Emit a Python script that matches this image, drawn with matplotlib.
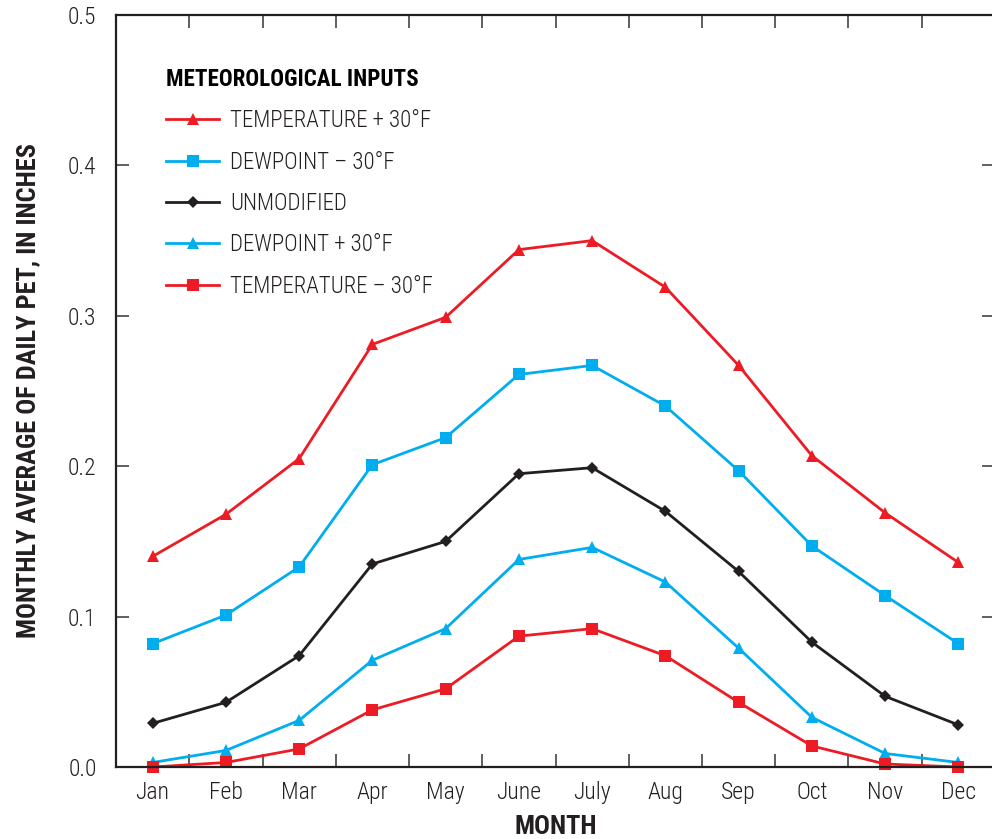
import matplotlib
matplotlib.use("Agg")
import matplotlib.pyplot as plt
from matplotlib.ticker import FixedLocator

plt.rcParams['font.family'] = ['Roboto Condensed', 'Liberation Sans Narrow', 'Roboto', 'DejaVu Sans']

months = ["Jan", "Feb", "Mar", "Apr", "May", "June", "July", "Aug", "Sep", "Oct", "Nov", "Dec"]
temp_plus30 = [0.140, 0.168, 0.205, 0.281, 0.299, 0.344, 0.350, 0.319, 0.267, 0.207, 0.169, 0.136]
dew_minus30 = [0.082, 0.101, 0.133, 0.201, 0.219, 0.261, 0.267, 0.240, 0.197, 0.147, 0.114, 0.082]
unmodified = [0.029, 0.043, 0.074, 0.135, 0.150, 0.195, 0.199, 0.170, 0.130, 0.083, 0.047, 0.028]
dew_plus30 = [0.003, 0.011, 0.031, 0.071, 0.092, 0.138, 0.146, 0.123, 0.079, 0.033, 0.009, 0.003]
temp_minus30 = [0.000, 0.003, 0.012, 0.038, 0.052, 0.087, 0.092, 0.074, 0.043, 0.014, 0.002, 0.000]
yticks = [0.0, 0.1, 0.2, 0.3, 0.4, 0.5]
ytick_labels = ["0.0", "0.1", "0.2", "0.3", "0.4", "0.5"]

RED = "#ED1C24"
BLUE = "#00AEEF"
BLACK = "#231F20"

fig = plt.figure(figsize=(9.92, 8.39), dpi=100)
ax = fig.add_axes([116/992, 72/839, (995-116)/992, (767-15)/839])

x = list(range(len(months)))
series = [
    (temp_plus30, RED, '^', 9, "TEMPERATURE + 30\u00b0F"),
    (dew_minus30, BLUE, 's', 8.5, "DEWPOINT \u2013 30\u00b0F"),
    (unmodified, BLACK, 'D', 6.5, "UNMODIFIED"),
    (dew_plus30, BLUE, '^', 9, "DEWPOINT + 30\u00b0F"),
    (temp_minus30, RED, 's', 8.5, "TEMPERATURE \u2013 30\u00b0F"),
]
for vals, c, m, ms, lab in series:
    ax.plot(x, vals, color=c, marker=m, markersize=ms, markeredgewidth=0,
            linewidth=2.0, label=lab, clip_on=False)

ax.set_xlim(-0.5, len(months) - 0.5)
ax.set_ylim(0, 0.5)

ax.xaxis.set_major_locator(FixedLocator([i + 0.5 for i in range(len(months) - 1)]))
ax.xaxis.set_minor_locator(FixedLocator(x))
ax.set_xticklabels([])
ax.set_xticklabels(months, minor=True, fontweight='light')
ax.tick_params(axis='x', which='major', direction='in', length=9.5, width=1.2, top=True, bottom=True, color="#444444")
ax.tick_params(axis='x', which='minor', length=0, pad=10, labelsize=17, labelcolor="#231F20")

ax.set_yticks(yticks)
ax.set_yticklabels(ytick_labels, fontweight='light')
ax.tick_params(axis='y', direction='in', length=9.5, width=1.2, left=True, right=True, pad=14, labelsize=17, labelcolor="#231F20", color="#444444")

for s in ax.spines.values():
    s.set_linewidth(1.6)
    s.set_color("#231F20")

ax.set_xlabel("MONTH", fontsize=19, fontweight='bold', labelpad=8, color="#231F20")
ax.set_ylabel("MONTHLY AVERAGE OF DAILY PET, IN INCHES", fontsize=19, fontweight='bold', labelpad=20, color="#231F20")

leg = ax.legend(loc='upper left', bbox_to_anchor=(0.033, 0.957), frameon=False,
                title="METEOROLOGICAL INPUTS", alignment='left', fontsize=16.5,
                handlelength=2.35, handletextpad=0.45, labelspacing=0.8)
leg.get_title().set_fontweight('bold')
leg.get_title().set_fontsize(16.6)
for t in leg.get_texts():
    t.set_color("#231F20")
    t.set_fontweight('light')

fig.savefig("out.png", dpi=100)
